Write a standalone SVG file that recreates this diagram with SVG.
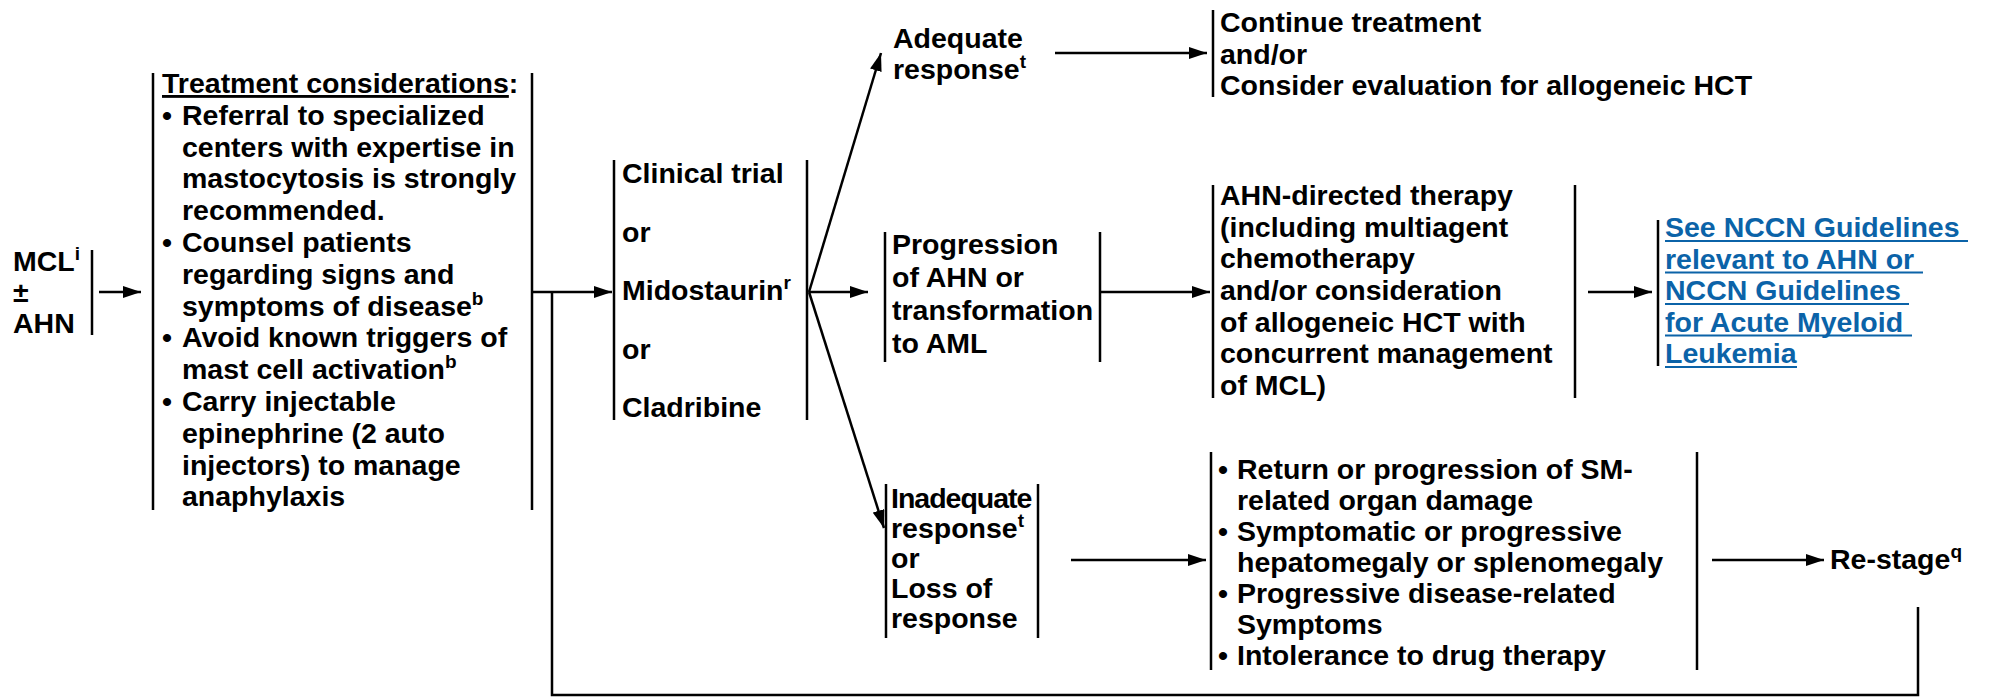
<svg xmlns="http://www.w3.org/2000/svg" width="2009" height="697" viewBox="0 0 2009 697">
<style>
text{font-family:"Liberation Sans",Arial,sans-serif;font-weight:bold;font-size:28.5px;fill:#000}
.sup{font-size:19px}
.link{fill:#0b63a8}
.bar{stroke:#000;stroke-width:2.5;fill:none}
.ul{stroke:#0b63a8;stroke-width:2}
.con{stroke:#000;stroke-width:2.5;fill:none}
</style>
<defs>
<marker id="ah" markerUnits="userSpaceOnUse" markerWidth="18" markerHeight="12" refX="18" refY="6" orient="auto">
<path d="M0,0 L18,6 L0,12 z" fill="#000"/>
</marker>
</defs>
<rect width="2009" height="697" fill="#fff"/>

<g id="connectors">
<line class="con" x1="99" y1="292" x2="141" y2="292" marker-end="url(#ah)"/>
<line class="con" x1="532" y1="292" x2="612" y2="292" marker-end="url(#ah)"/>
<polyline class="con" points="1918,607 1918,695 552,695 552,292"/>
<line class="con" x1="809" y1="292" x2="881" y2="53" marker-end="url(#ah)"/>
<line class="con" x1="809" y1="292" x2="868" y2="292" marker-end="url(#ah)"/>
<line class="con" x1="809" y1="292" x2="884" y2="528" marker-end="url(#ah)"/>
<line class="con" x1="1055" y1="53" x2="1207" y2="53" marker-end="url(#ah)"/>
<line class="con" x1="1100" y1="292" x2="1210" y2="292" marker-end="url(#ah)"/>
<line class="con" x1="1588" y1="292" x2="1652" y2="292" marker-end="url(#ah)"/>
<line class="con" x1="1071" y1="560" x2="1206" y2="560" marker-end="url(#ah)"/>
<line class="con" x1="1712" y1="560" x2="1824" y2="560" marker-end="url(#ah)"/>
</g>

<g id="mcl">
<line class="bar" x1="92" y1="250" x2="92" y2="335"/>
<text x="13" y="271">MCL<tspan class="sup" dy="-11">i</tspan></text>
<text x="13" y="302">±</text>
<text x="13" y="333">AHN</text>
</g>

<g id="treatment">
<line class="bar" x1="153" y1="73" x2="153" y2="510"/>
<line class="bar" x1="532" y1="73" x2="532" y2="510"/>
<text x="162" y="93"><tspan text-decoration="underline">Treatment considerations</tspan>:</text>
<text x="162" y="124.8">•</text><text x="182" y="124.8">Referral to specialized</text>
<text x="182" y="156.6">centers with expertise in</text>
<text x="182" y="188.4">mastocytosis is strongly</text>
<text x="182" y="220.2">recommended.</text>
<text x="162" y="252">•</text><text x="182" y="252">Counsel patients</text>
<text x="182" y="283.8">regarding signs and</text>
<text x="182" y="315.6">symptoms of disease<tspan class="sup" dy="-11">b</tspan></text>
<text x="162" y="347.4">•</text><text x="182" y="347.4">Avoid known triggers of</text>
<text x="182" y="379.2">mast cell activation<tspan class="sup" dy="-11">b</tspan></text>
<text x="162" y="411">•</text><text x="182" y="411">Carry injectable</text>
<text x="182" y="442.8">epinephrine (2 auto</text>
<text x="182" y="474.6">injectors) to manage</text>
<text x="182" y="506.4">anaphylaxis</text>
</g>

<g id="options">
<line class="bar" x1="614" y1="160" x2="614" y2="420"/>
<line class="bar" x1="807" y1="160" x2="807" y2="420"/>
<text x="622" y="183">Clinical trial</text>
<text x="622" y="241.5">or</text>
<text x="622" y="300">Midostaurin<tspan class="sup" dy="-11">r</tspan></text>
<text x="622" y="358.5">or</text>
<text x="622" y="417">Cladribine</text>
</g>

<g id="adequate">
<text x="893" y="48">Adequate</text>
<text x="893" y="79">response<tspan class="sup" dy="-11">t</tspan></text>
</g>

<g id="continue">
<line class="bar" x1="1213" y1="10" x2="1213" y2="97"/>
<text x="1220" y="32">Continue treatment</text>
<text x="1220" y="63.5">and/or</text>
<text x="1220" y="95">Consider evaluation for allogeneic HCT</text>
</g>

<g id="progression">
<line class="bar" x1="885" y1="232" x2="885" y2="362"/>
<line class="bar" x1="1100" y1="232" x2="1100" y2="362"/>
<text x="892" y="254">Progression</text>
<text x="892" y="287">of AHN or</text>
<text x="892" y="320">transformation</text>
<text x="892" y="353">to AML</text>
</g>

<g id="ahn-therapy">
<line class="bar" x1="1213" y1="185" x2="1213" y2="398"/>
<line class="bar" x1="1575" y1="185" x2="1575" y2="398"/>
<text x="1220" y="205">AHN-directed therapy</text>
<text x="1220" y="236.7">(including multiagent</text>
<text x="1220" y="268.3">chemotherapy</text>
<text x="1220" y="300">and/or consideration</text>
<text x="1220" y="331.7">of allogeneic HCT with</text>
<text x="1220" y="363.3">concurrent management</text>
<text x="1220" y="395">of MCL)</text>
</g>

<g id="nccn-link">
<line class="bar" x1="1658" y1="220" x2="1658" y2="366"/>
<text class="link" x="1665" y="237">See NCCN Guidelines</text>
<text class="link" x="1665" y="268.5">relevant to AHN or</text>
<text class="link" x="1665" y="300">NCCN Guidelines</text>
<text class="link" x="1665" y="331.5">for Acute Myeloid</text>
<text class="link" x="1665" y="363">Leukemia</text>
<line class="ul" x1="1665" y1="241" x2="1968" y2="241"/>
<line class="ul" x1="1665" y1="272.5" x2="1923" y2="272.5"/>
<line class="ul" x1="1665" y1="304" x2="1909" y2="304"/>
<line class="ul" x1="1665" y1="335.5" x2="1912" y2="335.5"/>
<line class="ul" x1="1665" y1="367" x2="1797" y2="367"/>
</g>

<g id="inadequate">
<line class="bar" x1="886" y1="484" x2="886" y2="638"/>
<line class="bar" x1="1038" y1="484" x2="1038" y2="638"/>
<text x="891" y="508" letter-spacing="-1">Inadequate</text>
<text x="891" y="538">response<tspan class="sup" dy="-11">t</tspan></text>
<text x="891" y="568">or</text>
<text x="891" y="598">Loss of</text>
<text x="891" y="628">response</text>
</g>

<g id="progression-criteria">
<line class="bar" x1="1211" y1="452" x2="1211" y2="670"/>
<line class="bar" x1="1697" y1="452" x2="1697" y2="670"/>
<text x="1218" y="479">•</text><text x="1237" y="479">Return or progression of SM-</text>
<text x="1237" y="510">related organ damage</text>
<text x="1218" y="541">•</text><text x="1237" y="541">Symptomatic or progressive</text>
<text x="1237" y="572">hepatomegaly or splenomegaly</text>
<text x="1218" y="603">•</text><text x="1237" y="603">Progressive disease-related</text>
<text x="1237" y="634">Symptoms</text>
<text x="1218" y="665">•</text><text x="1237" y="665">Intolerance to drug therapy</text>
</g>

<g id="restage">
<text x="1830" y="569">Re-stage<tspan class="sup" dy="-11">q</tspan></text>
</g>
</svg>
